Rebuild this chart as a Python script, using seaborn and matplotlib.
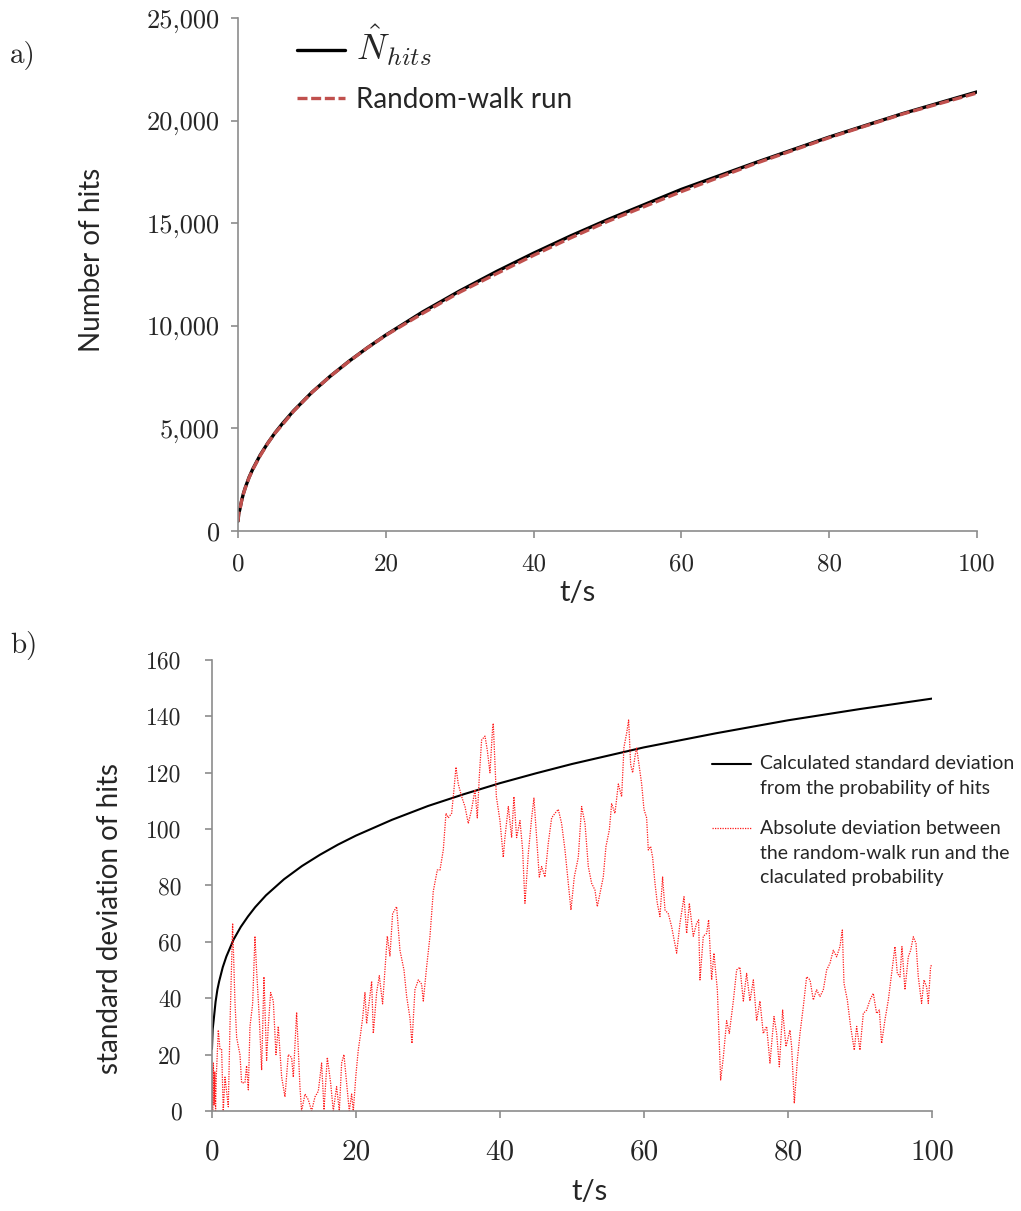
import matplotlib
matplotlib.use("Agg")
import matplotlib.pyplot as plt
from matplotlib.ticker import FuncFormatter, FixedLocator
from matplotlib.legend_handler import HandlerLine2D
import seaborn as sns
import pandas as pd

# ---- panel a: expected number of hits and one random-walk run ----
t_hits = [0, 0.1, 0.25, 0.5, 0.75, 1, 1.5, 2, 3, 4, 5, 6, 7.5, 10, 12.5, 15, 17.5,
          20, 25, 30, 35, 40, 45, 50, 60, 70, 80, 90, 100]
n_hat = [480, 850, 1060, 1500, 1850, 2130, 2620, 3020, 3700, 4270, 4780, 5230, 5850,
         6760, 7550, 8270, 8930, 9550, 10680, 11700, 12650, 13540, 14380, 15170,
         16650, 17950, 19200, 20350, 21400]
n_walk = [465, 850, 1045, 1490, 1830, 2110, 2600, 3000, 3670, 4260, 4770, 5180, 5830,
          6750, 7545, 8260, 8925, 9537, 10610, 11638, 12545, 13437, 14283, 15087,
          16543, 17907, 19172, 20329, 21348]

# ---- panel b: calculated standard deviation ----
t_sd = [0, 0.1, 0.25, 0.5, 0.75, 1, 1.5, 2, 3, 4, 5, 6, 7.5, 10, 12.5, 15, 17.5, 20,
        25, 30, 35, 40, 45, 50, 60, 70, 80, 90, 100]
sd_calc = [22, 29, 32.5, 38.7, 43, 46, 51, 54.8, 60.8, 65.3, 69, 72.3, 76.5, 82.2,
           86.9, 90.9, 94.5, 97.7, 103.3, 108.2, 112.4, 116.3, 119.8, 123.1, 129,
           134, 138.6, 142.6, 146.3]

# ---- panel b: absolute deviation of the random-walk run ----
t_dev = [0.0, 0.1, 0.2, 0.3, 0.4, 0.5, 0.6, 0.88, 1.11, 1.34, 1.57, 1.81, 2.27, 2.5,
         2.87, 3.19, 3.43, 3.89, 4.12, 4.58, 4.81, 5.05, 5.28, 5.65, 5.97, 6.2, 6.57,
         6.9, 7.22, 7.59, 7.82, 8.15, 8.52, 8.89, 9.21, 9.68, 10.14, 10.6, 11.06, 11.3,
         11.76, 12.22, 12.45, 12.92, 13.38, 13.84, 14.31, 14.77, 15.23, 15.56, 16.02,
         16.48, 16.85, 17.31, 17.69, 18.01, 18.33, 18.7, 19.07, 19.4, 19.63, 20.0,
         20.32, 20.65, 20.93, 21.25, 21.48, 21.85, 22.18, 22.41, 22.87, 23.24, 23.7,
         24.03, 24.35, 24.72, 25.09, 25.65, 26.11, 26.67, 27.04, 27.5, 27.78, 28.19,
         28.66, 29.12, 29.35, 29.81, 30.28, 30.74, 31.3, 31.67, 32.13, 32.5, 32.82,
         33.29, 33.61, 33.89, 34.21, 34.68, 35.14, 35.6, 36.06, 36.53, 36.85, 37.13,
         37.45, 37.92, 38.24, 38.61, 38.98, 39.07, 39.5, 40.0, 40.46, 40.69, 41.16,
         41.62, 41.94, 42.31, 42.78, 43.15, 43.47, 43.94, 44.4, 44.72, 45.09, 45.46,
         45.79, 46.25, 46.71, 47.18, 47.64, 48.1, 48.56, 49.03, 49.49, 49.86, 50.32,
         50.88, 51.34, 51.81, 52.27, 52.73, 53.19, 53.52, 53.98, 54.35, 54.72, 55.19,
         55.51, 55.97, 56.44, 56.9, 57.22, 57.59, 57.87, 58.15, 58.43, 58.75, 58.98,
         59.35, 59.68, 60.0, 60.37, 60.6, 60.93, 61.2, 61.53, 61.85, 62.22, 62.59,
         62.92, 63.38, 63.84, 64.54, 65.0, 65.56, 65.93, 66.3, 66.85, 67.31, 67.59,
         67.78, 68.24, 68.7, 68.98, 69.4, 69.72, 70.19, 70.65, 71.02, 71.48, 71.85,
         72.41, 72.87, 73.33, 73.8, 74.26, 74.72, 75.19, 75.65, 76.11, 76.57, 77.04,
         77.5, 78.06, 78.43, 78.8, 79.26, 79.72, 80.28, 80.51, 80.88, 81.3, 81.67,
         82.13, 82.59, 83.06, 83.52, 83.98, 84.44, 84.91, 85.37, 85.83, 86.3, 86.76,
         87.22, 87.55, 87.78, 88.24, 88.7, 89.21, 89.54, 90.0, 90.46, 90.93, 91.39,
         91.85, 92.31, 92.69, 93.01, 93.47, 93.94, 94.4, 94.86, 95.19, 95.56, 95.83,
         96.25, 96.71, 97.04, 97.41, 97.78, 98.1, 98.56, 98.89, 99.26, 99.49, 99.81,
         100.0]
dev_abs = [15, 0, 17, 2, 14, 0, 12, 28.7, 22, 22, 0, 12, 1.5, 30, 66.6, 39, 26, 20,
           10, 10, 16, 7.5, 30, 38, 62, 50, 33, 14.5, 47.6, 18, 30, 42, 39, 20, 30, 12,
           5, 20, 19, 12, 35, 8.6, 0, 6, 4, 0, 5, 7, 17, 0.4, 19, 10, 0, 8.6, 0, 17,
           20, 10, 0, 6, 0, 13, 21.6, 27.5, 33, 42, 31, 39, 46, 27.5, 42, 48, 38, 50,
           62, 55, 70, 72.5, 57, 50, 40.6, 33, 24, 43, 46.5, 45, 39, 51, 62, 78, 85.5,
           85.5, 92.6, 105.6, 104, 105.6, 114, 122, 116, 111.5, 108, 102, 107, 114,
           104, 118.6, 131.6, 133, 128, 120, 136, 137.5, 111.5, 103, 90, 97, 108, 97,
           111.5, 97, 103, 92.6, 73.7, 91.4, 104, 111, 97, 83, 86.7, 83, 95, 104,
           105.6, 107, 102, 92.6, 80.8, 71.3, 83, 90, 108, 102, 86.7, 80.8, 78.4,
           72.5, 78.4, 83, 93.8, 99.7, 109, 105.6, 116, 111.5, 129, 134, 138.7, 123,
           120, 125.7, 129, 122, 116, 107, 104, 92.6, 93.8, 90, 80.8, 73.7, 69, 83,
           71.3, 70, 65.4, 56, 66.6, 76, 63, 73.7, 62, 66.6, 67.8, 46.5, 62, 63, 67.8,
           46.5, 56, 43, 11, 19, 32, 27.5, 39, 50, 51, 39, 48.8, 39, 46.5, 32, 39,
           27.5, 30, 17, 33.5, 27.5, 15.7, 35.8, 22.8, 28.7, 22.8, 2.7, 18, 27.5, 37,
           47.6, 46.5, 39.4, 43, 40.6, 43, 50, 52.4, 57, 54.7, 58.3, 64.2, 45.3, 39.4,
           30, 21.6, 30, 21.6, 34.6, 35.8, 39.4, 41.7, 34.6, 35.8, 24, 32.3, 39.4,
           48.8, 58.3, 48.8, 47.6, 58.3, 43, 54.7, 57, 61.8, 59.5, 47.6, 38.2, 46.5,
           44, 38.2, 51.2, 52]

hits_ticks = [0, 5000, 10000, 15000, 20000, 25000]
sd_ticks = [0, 20, 40, 60, 80, 100, 120, 140, 160]
time_ticks = [0, 20, 40, 60, 80, 100]

sns.set_theme(style="white")
plt.rcParams["font.family"] = ["Lato", "DejaVu Sans"]
plt.rcParams["mathtext.fontset"] = "cm"
plt.rcParams["axes.unicode_minus"] = False

SERIF = "cmr10"
SPINE = "#8c8c8c"
WALK_DASH = [3.0, 1.1]
DOT = (0, (1, 1))


class ShiftedLineHandler(HandlerLine2D):
    """Legend key drawn level with the first line of a multi-line label."""

    def __init__(self, dy, **kw):
        super().__init__(**kw)
        self.dy = dy

    def create_artists(self, legend, orig_handle, xdescent, ydescent, width,
                       height, fontsize, trans):
        artists = super().create_artists(legend, orig_handle, xdescent, ydescent,
                                         width, height, fontsize, trans)
        for a in artists:
            a.set_ydata([y + self.dy for y in a.get_ydata()])
        return artists


fig = plt.figure(figsize=(10.21, 12.11), dpi=100)
ax_a = fig.add_axes([0.2331, 0.5615, 0.7238, 0.4236])
ax_b = fig.add_axes([0.2076, 0.0826, 0.7052, 0.3724])


def style_axis(ax, xtick_size, ytick_size, xpad, ypad):
    for side in ("top", "right"):
        ax.spines[side].set_visible(False)
    for side in ("left", "bottom"):
        ax.spines[side].set_color(SPINE)
        ax.spines[side].set_linewidth(1.2)
    ax.tick_params(axis="both", which="major", direction="out", length=5,
                   width=1.2, color=SPINE, left=True, bottom=True)
    ax.tick_params(axis="x", pad=xpad)
    ax.tick_params(axis="y", pad=ypad)
    for lab in ax.get_xticklabels():
        lab.set_fontfamily(SERIF)
        lab.set_fontsize(xtick_size)
    for lab in ax.get_yticklabels():
        lab.set_fontfamily(SERIF)
        lab.set_fontsize(ytick_size)


# panel a
df_a = pd.DataFrame({"t": t_hits, "hat": n_hat, "walk": n_walk})
sns.lineplot(data=df_a, x="t", y="hat", ax=ax_a, color="black", lw=2.4,
             label=r"$\hat{N}_{hits}$")
sns.lineplot(data=df_a, x="t", y="walk", ax=ax_a, color="#c0504d", lw=2.4,
             dashes=False, label="Random-walk run")
ax_a.lines[1].set_dashes(WALK_DASH)
ax_a.set_xlim(0, 100)
ax_a.set_ylim(0, 25000)
ax_a.xaxis.set_major_locator(FixedLocator(time_ticks))
ax_a.yaxis.set_major_locator(FixedLocator(hits_ticks))
ax_a.yaxis.set_major_formatter(FuncFormatter(lambda v, p: f"{v:,.0f}"))
style_axis(ax_a, 18, 19, 11, 8)
ax_a.set_xlabel("t/s", fontsize=21, va="center")
ax_a.set_ylabel("Number of hits", fontsize=20, va="center")
ax_a.xaxis.set_label_coords(0.459, -0.121)
ax_a.yaxis.set_label_coords(-0.198, 0.528)

leg_a = ax_a.legend(loc="upper left", bbox_to_anchor=(297 / 1021, 1 - 23 / 1211),
                    bbox_transform=fig.transFigure, frameon=False, fontsize=20,
                    handlelength=1.72, handletextpad=0.4, labelspacing=0.68,
                    borderpad=0, borderaxespad=0)
leg_a.get_texts()[0].set_fontsize(26)
leg_a.legend_handles[1].set_dashes(WALK_DASH)

# panel b
df_sd = pd.DataFrame({"t": t_sd, "sd": sd_calc})
df_dev = pd.DataFrame({"t": t_dev, "dev": dev_abs})
sns.lineplot(data=df_sd, x="t", y="sd", ax=ax_b, color="black", lw=1.5,
             label="Calculated standard deviation\nfrom the probability of hits")
sns.lineplot(data=df_dev, x="t", y="dev", ax=ax_b, color="#ff1a1a", lw=0.9,
             estimator=None, sort=False,
             label="Absolute deviation between\nthe random-walk run and the\nclaculated probability")
ax_b.lines[1].set_linestyle(DOT)
ax_b.set_xlim(0, 100)
ax_b.set_ylim(0, 160)
ax_b.xaxis.set_major_locator(FixedLocator(time_ticks))
ax_b.yaxis.set_major_locator(FixedLocator(sd_ticks))
style_axis(ax_b, 21, 17, 15, 17)
ax_b.set_xlabel("t/s", fontsize=21, va="center")
ax_b.set_ylabel("standard deviation of hits", fontsize=20, va="center")
ax_b.xaxis.set_label_coords(0.524, -0.18)
ax_b.yaxis.set_label_coords(-0.142, 0.426)

h_b, l_b = ax_b.get_legend_handles_labels()
leg_b = ax_b.legend(h_b, l_b, loc="upper left",
                    bbox_to_anchor=(712 / 1021, 1 - 755 / 1211),
                    bbox_transform=fig.transFigure, frameon=False, fontsize=14,
                    handlelength=2.0, handletextpad=0.45, labelspacing=1.2,
                    borderpad=0, borderaxespad=0,
                    handler_map={h_b[0]: ShiftedLineHandler(9.0),
                                 h_b[1]: ShiftedLineHandler(18.5)})
for txt in leg_b.get_texts():
    txt.set_linespacing(1.55)
leg_b.legend_handles[1].set_linestyle(DOT)

fig.text(10 / 1021, 1 - 55 / 1211, "a)", fontfamily=SERIF, fontsize=21, va="center")
fig.text(10 / 1021, 1 - 645 / 1211, "b)", fontfamily=SERIF, fontsize=21, va="center")

fig.savefig("out.png", dpi=100)
